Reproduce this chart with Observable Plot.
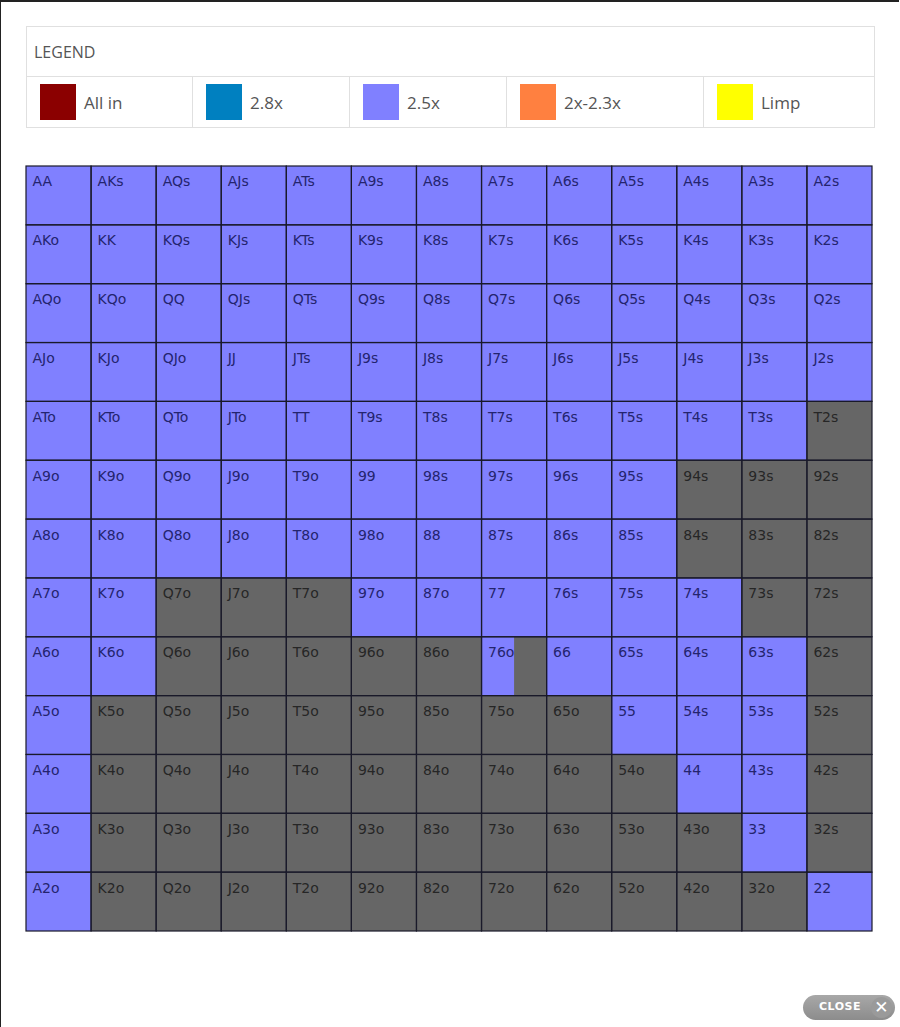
<!DOCTYPE html>
<html>
<head>
<meta charset="utf-8">
<script src="https://cdn.jsdelivr.net/npm/d3@7"></script>
<script src="https://cdn.jsdelivr.net/npm/@observablehq/plot@0.6"></script>
<style>
  html, body { margin: 0; padding: 0; background: #fff; }
  body { width: 900px; height: 1027px; position: relative; overflow: hidden; font-family: "Open Sans", sans-serif; }
  #frame { position: absolute; left: 0; top: 0; width: 899px; height: 1027px; border-top: 2px solid #222; border-left: 1px solid #222; box-sizing: border-box; }
  #legend { position: absolute; left: 26px; top: 26px; width: 848px; border-collapse: collapse; table-layout: fixed; }
  #legend td { border: 1px solid #e0e0e0; color: #555; font-size: 17px; padding: 0; }
  #legend .head { height: 49px; padding-left: 7px; font-size: 16px; }
  #legend .item { height: 50px; padding-left: 13px; white-space: nowrap; }
  .sw { display: inline-block; width: 36px; height: 36px; vertical-align: middle; margin-right: 8px; }
  .lab { vertical-align: middle; }
  #chart { position: absolute; left: 0; top: 140px; }
  #close { position: absolute; left: 803px; top: 995px; width: 92px; height: 25px; border-radius: 13px; background: linear-gradient(#a8a8a8, #8c8c8c); color: #fff; font-family: "DejaVu Sans", sans-serif; font-weight: bold; font-size: 11px; letter-spacing: 0.5px; }
  #close .t { position: absolute; left: 16px; top: 5px; }
  #close .x { position: absolute; right: 3px; top: 2px; width: 21px; height: 21px; border-radius: 50%; background: #9a9a9a; font-size: 17px; line-height: 21px; text-align: center; }
</style>
</head>
<body>
<div id="frame"></div>
<table id="legend"></table>
<div id="chart"></div>
<div id="close"><span class="t">CLOSE</span><span class="x">✕</span></div>
<script>
// Data
const ranks = ["A","K","Q","J","T","9","8","7","6","5","4","3","2"];
const legendLabels = ["All in", "2.8x", "2.5x", "2x-2.3x", "Limp"];
const legendColors = ["#8b0000", "#0080c0", "#8080ff", "#ff8040", "#ffff00"];
// fraction of each hand raised 2.5x, by row (row rank) and column (column rank)
const raiseRows = [
  [1,1,1,1,1,1,1,1,1,1,1,1,1],
  [1,1,1,1,1,1,1,1,1,1,1,1,1],
  [1,1,1,1,1,1,1,1,1,1,1,1,1],
  [1,1,1,1,1,1,1,1,1,1,1,1,1],
  [1,1,1,1,1,1,1,1,1,1,1,1,0],
  [1,1,1,1,1,1,1,1,1,1,0,0,0],
  [1,1,1,1,1,1,1,1,1,1,0,0,0],
  [1,1,0,0,0,1,1,1,1,1,1,0,0],
  [1,1,0,0,0,0,0,0.5,1,1,1,1,0],
  [1,0,0,0,0,0,0,0,0,1,1,1,0],
  [1,0,0,0,0,0,0,0,0,0,1,1,0],
  [1,0,0,0,0,0,0,0,0,0,0,1,0],
  [1,0,0,0,0,0,0,0,0,0,0,0,1]
];

// Legend
const leg = document.getElementById("legend");
leg.innerHTML = `<colgroup><col style="width:166px"><col style="width:157px"><col style="width:157px"><col style="width:197px"><col style="width:171px"></colgroup>
<tr><td class="head" colspan="5">LEGEND</td></tr>
<tr>${legendLabels.map((l,i)=>`<td class="item"><span class="sw" style="background:${legendColors[i]}"></span><span class="lab">${l}</span></td>`).join("")}</tr>`;

// Build table
const cells = [];
raiseRows.forEach((row, i) => row.forEach((f, j) => {
  const label = i === j ? ranks[i] + ranks[j]
    : j > i ? ranks[i] + ranks[j] + "s"
    : ranks[j] + ranks[i] + "o";
  cells.push({i, j, f, label});
}));

const chart = Plot.plot({
  width: 900,
  height: 820,
  marginLeft: 26,
  marginRight: 28,
  marginTop: 26,
  marginBottom: 29,
  x: {type: "linear", domain: [0, 13], axis: null},
  y: {type: "linear", domain: [0, 13], reverse: true, axis: null},
  style: {fontFamily: "'DejaVu Sans', sans-serif"},
  marks: [
    Plot.rect(cells, {x1: "j", x2: d => d.j + 1, y1: "i", y2: d => d.i + 1, fill: "#666666"}),
    Plot.rect(cells.filter(d => d.f > 0), {x1: "j", x2: d => d.j + d.f, y1: "i", y2: d => d.i + 1, fill: "#8080ff"}),
    Plot.rect(cells, {x1: "j", x2: d => d.j + 1, y1: "i", y2: d => d.i + 1, fill: "none", stroke: "#1a1a2a", strokeWidth: 1.2}),
    Plot.text(cells, {x: "j", y: "i", text: "label", textAnchor: "start", lineAnchor: "top", dx: 6, dy: 10, fontSize: 14, fill: d => d.f > 0 ? "#24246e" : "#262626"})
  ]
});
document.getElementById("chart").appendChild(chart);
</script>
</body>
</html>
